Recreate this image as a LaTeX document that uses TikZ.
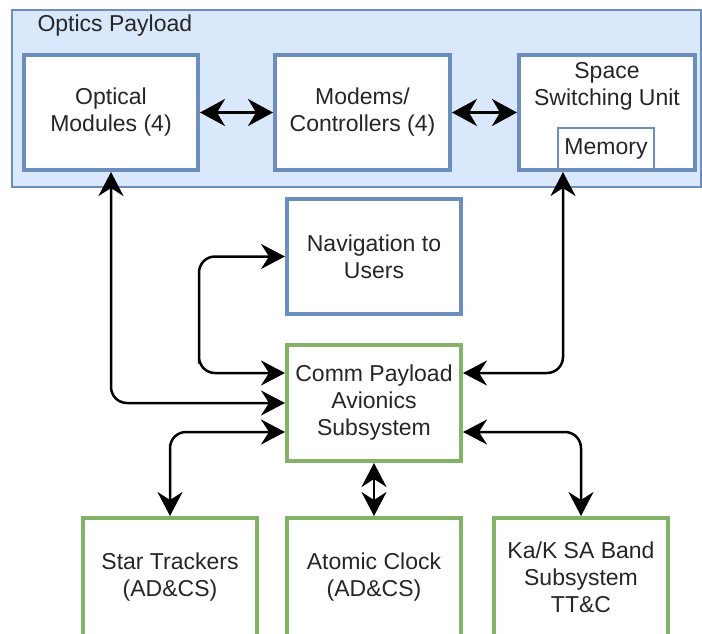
\documentclass[tikz,border=0pt]{standalone}
\usepackage{fontspec}
\setmainfont{Liberation Sans}
\usetikzlibrary{arrows.meta,positioning,calc}

\definecolor{paneblue}{HTML}{DAE8FC}
\definecolor{edgeblue}{HTML}{6C8EBF}
\definecolor{edgegreen}{HTML}{82B366}

\tikzset{
  unit/.style={draw, fill=white, line width=4pt, minimum width=174pt, minimum height=115pt,
    align=center, inner sep=2pt, text=black!85, font=\fontsize{23}{27}\selectfont},
  bluebox/.style={unit, draw=edgeblue},
  greenbox/.style={unit, draw=edgegreen, minimum height=118pt},
  link/.style={line width=2.5pt, rounded corners=16pt,
    {Stealth[length=24pt,width=25pt,inset=8pt]}-{Stealth[length=24pt,width=25pt,inset=8pt]}},
  busy/.style={line width=3pt,
    {Stealth[length=25pt,width=27pt,inset=8pt]}-{Stealth[length=25pt,width=27pt,inset=8pt]}}
}

\begin{document}
\begin{tikzpicture}[x=1pt,y=-1pt]
  \useasboundingbox (0,0) rectangle (702,633);
  % optics payload container
  \draw[fill=paneblue, draw=edgeblue, line width=2pt] (12,10) rectangle (701,187);
  \node[anchor=west, text=black!85, font=\fontsize{23}{27}\selectfont] (optics) at (34,26) {Optics Payload};

  \node[bluebox] (optical) at (111,112.5) {Optical\\Modules (4)};
  \node[bluebox, minimum width=175pt] (modems) at (362.5,112.5) {Modems/\\Controllers (4)};
  \node[bluebox, minimum width=176pt] (ssu) at (607,112.5) {};
  \node[text=black!85, align=center, font=\fontsize{23}{27}\selectfont] (ssutext) at (607,86) {Space\\Switching Unit};
  \node[draw=edgeblue, fill=white, line width=1.5pt, minimum width=96pt, minimum height=41pt,
    inner sep=1pt, text=black!85, font=\fontsize{23}{27}\selectfont] (memory) at (606,148.5) {Memory};

  \node[bluebox] (nav) at (374,256.5) {Navigation to\\Users};
  \node[greenbox, minimum height=116pt] (comm) at (374,403) {Comm Payload\\Avionics\\Subsystem};

  \node[greenbox] (star) at (170,577) {Star Trackers\\(AD\&CS)};
  \node[greenbox] (clock) at (374,577) {Atomic Clock\\(AD\&CS)};
  \node[greenbox] (band) at (581,577) {Ka/K SA Band\\Subsystem\\TT\&C};

  % links inside the payload
  \draw[busy] (optical.east) -- (modems.west);
  \draw[busy] (modems.east) -- (ssu.west);

  % links to the avionics
  \draw[link] (comm.west) -| (optical.south);
  \draw[link] ([yshift=30]comm.west) -| ++(-86,0) |- (nav.west);
  \draw[link] ([yshift=-29]comm.west) -| (star.north);
  \draw[link] ([yshift=30]comm.east) -| ([xshift=-44]ssu.south);
  \draw[link] ([yshift=-29]comm.east) -| (band.north);
  \draw[link, rounded corners=0pt] (comm.south) -- (clock.north);
\end{tikzpicture}
\end{document}
